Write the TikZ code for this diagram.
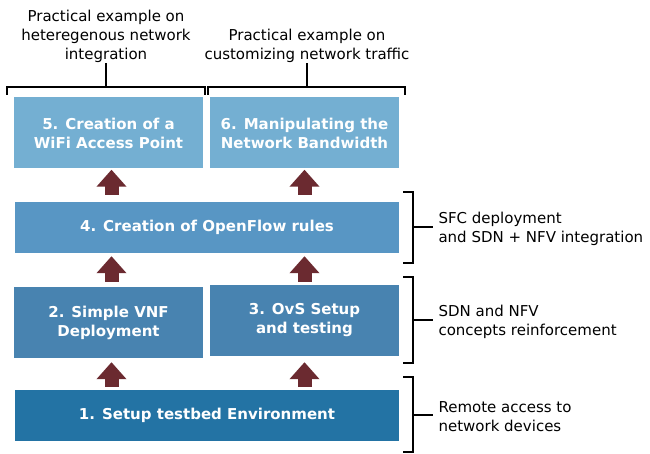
\documentclass[tikz,border=0pt]{standalone}
\usepackage{fontspec}
\setmainfont{DejaVu Sans}
\usetikzlibrary{arrows.meta}
\definecolor{stagefive}{RGB}{116,175,210}
\definecolor{stagefour}{RGB}{88,150,196}
\definecolor{stagetwo}{RGB}{72,131,176}
\definecolor{stageone}{RGB}{35,115,164}
\definecolor{maroon}{RGB}{107,42,48}

\begin{document}
\begin{tikzpicture}[x=1pt,y=-1pt,
    stage/.style={fill=#1, text=white, align=center, inner sep=0pt,
        font=\bfseries\fontsize{15}{19}\selectfont},
    half/.style={minimum width=189pt, minimum height=71pt},
    full/.style={minimum width=384pt, minimum height=51pt},
    uparrow/.style={maroon, line width=14pt,
        -{Triangle[width=29pt,length=17pt]}},
    brace/.style={line width=1.4pt},
    note/.style={align=left, font=\fontsize{15}{19}\selectfont}]
       \useasboundingbox (0,0) rectangle (650,454);

       \node[stage=stagefive,half] (b5) at (108.5,133) {5. Creation of a\\WiFi Access Point};
       \node[stage=stagefive,half] (b6) at (304.5,133) {6. Manipulating the\\Network Bandwidth};
       \node[stage=stagefour,full] (b4) at (207,227.5) {4. Creation of OpenFlow rules};
       \node[stage=stagetwo,half] (b2) at (108.5,322.5) {2. Simple VNF\\Deployment};
       \node[stage=stagetwo,half] (b3) at (304.5,320.5) {3. OvS Setup\\and testing};
       \node[stage=stageone,full] (b1) at (207,415.5) {1. Setup testbed Environment};

       \coordinate (cl) at (111.5,0);
       \coordinate (cr) at (304.5,0);
       \draw[uparrow,shorten <=7pt,shorten >=1pt] (b4.north -| cl) -- (b5.south -| cl);
       \draw[uparrow,shorten <=7pt,shorten >=1pt] (b4.north -| cr) -- (b6.south -| cr);
       \draw[uparrow,shorten <=5pt,shorten >=3pt] (b2.north -| cl) -- (b4.south -| cl);
       \draw[uparrow,shorten <=3pt,shorten >=3pt] (b3.north -| cr) -- (b4.south -| cr);
       \draw[uparrow,shorten <=3pt,shorten >=4pt] (b1.north -| cl) -- (b2.south -| cl);
       \draw[uparrow,shorten <=3pt,shorten >=6pt] (b1.north -| cr) -- (b3.south -| cr);

       % top groups
       \draw[brace] (7,95) -- (7,87) -- (205,87) -- (205,95);
       \draw[brace] (106,87) -- (106,63) coordinate (t1);
       \draw[brace] (208,95) -- (208,87) -- (405,87) -- (405,95);
       \draw[brace] (307,87) -- (307,63) coordinate (t2);
       \node[note,align=center,anchor=south] (l1) at ([yshift=-3pt]t1) {Practical example on\\heteregenous network\\integration};
       \node[note,align=center,anchor=south] (l2) at ([yshift=-3pt]t2) {Practical example on\\customizing network traffic};

       % right groups
       \draw[brace] (403,192) -- (413,192) -- (413,263) -- (403,263);
       \draw[brace] (413,227) -- (433,227) coordinate (r1);
       \draw[brace] (403,277) -- (413,277) -- (413,363) -- (403,363);
       \draw[brace] (413,320) -- (433,320) coordinate (r2);
       \draw[brace] (403,377) -- (413,377) -- (413,452) -- (403,452);
       \draw[brace] (413,415) -- (433,415) coordinate (r3);
       \node[note,anchor=west] (l3) at ([xshift=2pt,yshift=-2pt]r1) {SFC deployment\\and SDN + NFV integration};
       \node[note,anchor=west] (l4) at ([xshift=2pt,yshift=-2pt]r2) {SDN and NFV\\concepts reinforcement};
       \node[note,anchor=west] (l5) at ([xshift=2pt,yshift=-2pt]r3) {Remote access to\\network devices};
   \end{tikzpicture}
\end{document}
